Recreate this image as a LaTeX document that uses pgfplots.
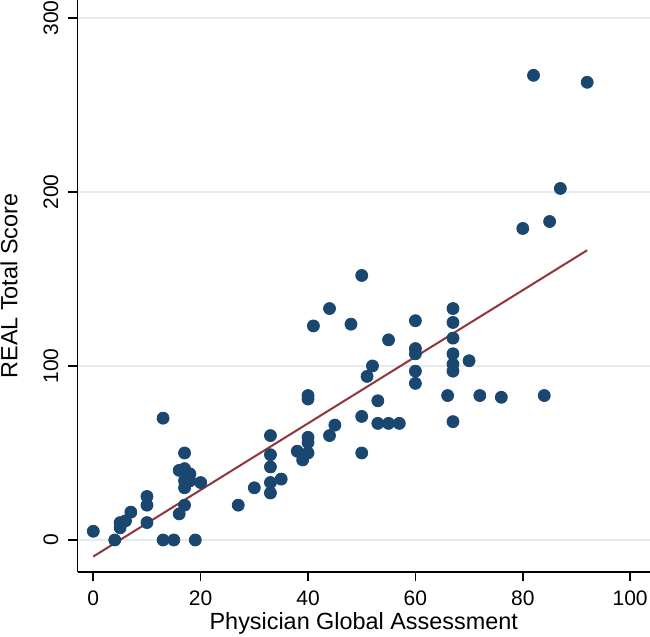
\documentclass[border=0pt]{standalone}
\usepackage{pgfplots}
\pgfplotsset{compat=1.18}
\usepackage{fontspec}
\setmainfont{Liberation Sans}
\definecolor{stnavy}{RGB}{26,71,111}
\definecolor{stmaroon}{RGB}{144,53,59}
\definecolor{gridc}{RGB}{228,236,240}
\begin{document}
\begin{tikzpicture}
\begin{axis}[
  scale only axis,
  width=286.25pt, height=286pt,
  xmin=-2.94, xmax=103.7, ymin=-18.4, ymax=310.3,
  axis x line*=bottom, axis y line*=left,
  axis line style={-, black, line width=0.8pt},
  xtick={0,20,40,60,80,100}, ytick={0,100,200,300},
  tick style={black, line width=0.8pt},
  tick align=outside, major tick length=4.5pt,
  ymajorgrids, grid style={gridc, line width=0.8pt},
  /pgf/number format/assume math mode=true,
  tick label style={font=\fontsize{10.5}{12}\selectfont},
  xticklabel style={anchor=center, yshift=-8.5pt},
  yticklabel style={xshift=-8.75pt, rotate=90, anchor=center},
  label style={font=\fontsize{11.7}{14}\selectfont},
  xlabel={Physician Global Assessment},
  ylabel={REAL Total Score},
  xlabel style={at={(axis description cs:0.5,0)}, anchor=base, yshift=-28.5pt},
  ylabel style={at={(axis description cs:0,0.5)}, anchor=center, yshift=34.25pt},
  clip=false,
]
\addplot[only marks, mark=*, mark size=3pt, color=stnavy, mark options={fill=stnavy, draw=stnavy}] coordinates {
(0,5)(4,0)(5,7)(5,10)(6,11)(7,16)(10,25)(10,20)(10,10)(13,70)(13,0)(15,0)(19,0)
(17,50)(16,40)(17,41)(18,38)(17,34)(18,34)(17,30)(20,33)(17,20)(16,15)
(27,20)(30,30)(33,60)(33,49)(33,42)(33,33)(33,27)(35,35)
(38,51)(39,46)(40,50)(40,56)(40,59)(40,81)(40,83)(44,60)(45,66)
(41,123)(44,133)(48,124)(50,152)(50,71)(50,50)(51,94)(52,100)(53,80)
(53,67)(55,67)(57,67)(55,115)(60,126)(60,110)(60,107)(60,97)(60,90)
(66,83)(67,133)(67,125)(67,116)(67,107)(67,101)(67,97)(67,68)(70,103)
(72,83)(76,82)(84,83)(80,179)(85,183)(87,202)(82,267)(92,263)
};
\addplot[stmaroon, line width=1pt] coordinates {(0,-9.5)(92,166.5)};
\end{axis}
\pgfresetboundingbox
\path (current axis.south west) ++(-38.75pt,-32pt) rectangle (current axis.north east);
\end{tikzpicture}
\end{document}
